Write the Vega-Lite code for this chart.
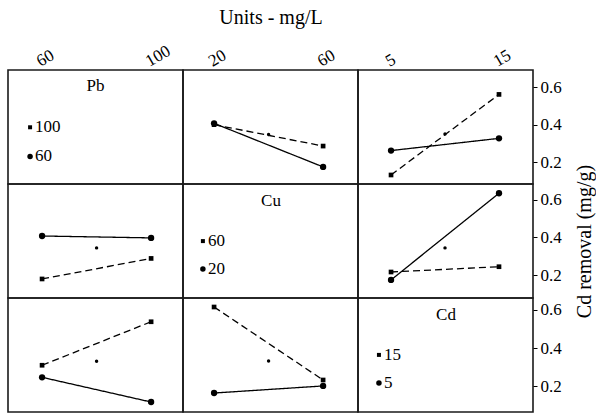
{
  "$schema": "https://vega.github.io/schema/vega-lite/v6.json",
  "padding": {"left": 7, "top": 7, "right": 0, "bottom": 0},
  "background": "white",
  "config": {
    "view": {"stroke": "#1a1a1a", "strokeWidth": 1.6},
    "axis": {"labelFont": "Liberation Serif", "labelFontSize": 17, "labelColor": "black", "titleFont": "Liberation Serif", "titleFontSize": 20, "titleFontWeight": "normal", "titleColor": "black", "tickColor": "black"},
    "text": {"font": "Liberation Serif", "fontSize": 17, "color": "black"},
    "concat": {"spacing": 0}
  },
  "datasets": {
    "pts": [
      {"row": "Pb", "col": "Cu", "x": 20, "setting": "low", "y": 0.407},
      {"row": "Pb", "col": "Cu", "x": 60, "setting": "low", "y": 0.175},
      {"row": "Pb", "col": "Cu", "x": 20, "setting": "high", "y": 0.400},
      {"row": "Pb", "col": "Cu", "x": 60, "setting": "high", "y": 0.286},
      {"row": "Pb", "col": "Cu", "x": 40, "setting": "mean", "y": 0.348},
      {"row": "Pb", "col": "Cd", "x": 5, "setting": "low", "y": 0.262},
      {"row": "Pb", "col": "Cd", "x": 15, "setting": "low", "y": 0.327},
      {"row": "Pb", "col": "Cd", "x": 5, "setting": "high", "y": 0.132},
      {"row": "Pb", "col": "Cd", "x": 15, "setting": "high", "y": 0.561},
      {"row": "Pb", "col": "Cd", "x": 10, "setting": "mean", "y": 0.350},
      {"row": "Cu", "col": "Pb", "x": 60, "setting": "low", "y": 0.407},
      {"row": "Cu", "col": "Pb", "x": 100, "setting": "low", "y": 0.397},
      {"row": "Cu", "col": "Pb", "x": 60, "setting": "high", "y": 0.179},
      {"row": "Cu", "col": "Pb", "x": 100, "setting": "high", "y": 0.288},
      {"row": "Cu", "col": "Pb", "x": 80, "setting": "mean", "y": 0.344},
      {"row": "Cu", "col": "Cd", "x": 5, "setting": "low", "y": 0.174},
      {"row": "Cu", "col": "Cd", "x": 15, "setting": "low", "y": 0.634},
      {"row": "Cu", "col": "Cd", "x": 5, "setting": "high", "y": 0.216},
      {"row": "Cu", "col": "Cd", "x": 15, "setting": "high", "y": 0.244},
      {"row": "Cu", "col": "Cd", "x": 10, "setting": "mean", "y": 0.344},
      {"row": "Cd", "col": "Pb", "x": 60, "setting": "low", "y": 0.247},
      {"row": "Cd", "col": "Pb", "x": 100, "setting": "low", "y": 0.118},
      {"row": "Cd", "col": "Pb", "x": 60, "setting": "high", "y": 0.310},
      {"row": "Cd", "col": "Pb", "x": 100, "setting": "high", "y": 0.537},
      {"row": "Cd", "col": "Pb", "x": 80, "setting": "mean", "y": 0.331},
      {"row": "Cd", "col": "Cu", "x": 20, "setting": "low", "y": 0.165},
      {"row": "Cd", "col": "Cu", "x": 60, "setting": "low", "y": 0.202},
      {"row": "Cd", "col": "Cu", "x": 20, "setting": "high", "y": 0.614},
      {"row": "Cd", "col": "Cu", "x": 60, "setting": "high", "y": 0.233},
      {"row": "Cd", "col": "Cu", "x": 40, "setting": "mean", "y": 0.332}
    ],
    "keys": [
      {"factor": "Pb", "part": "title", "label": "Pb"},
      {"factor": "Pb", "part": "high", "label": "100"},
      {"factor": "Pb", "part": "low", "label": "60"},
      {"factor": "Cu", "part": "title", "label": "Cu"},
      {"factor": "Cu", "part": "high", "label": "60"},
      {"factor": "Cu", "part": "low", "label": "20"},
      {"factor": "Cd", "part": "title", "label": "Cd"},
      {"factor": "Cd", "part": "high", "label": "15"},
      {"factor": "Cd", "part": "low", "label": "5"}
    ]
  },
  "columns": 3,
  "spacing": 0,
  "bounds": "flush",
  "concat": [
    {
      "width": 175, "height": 114, "data": {"name": "keys"},
      "layer": [
        {"transform": [{"filter": "datum.factor==='Pb' && datum.part==='title'"}],
         "mark": {"type": "text", "align": "center", "baseline": "middle", "font": "Liberation Serif"},
         "encoding": {
           "x": {"datum": 79.6, "type": "quantitative", "scale": {"domain": [47.5, 111.7], "nice": false, "zero": false}, "axis": {"orient": "top", "values": [60, 100], "labelAngle": -30, "ticks": false, "domain": false, "grid": false, "title": null, "labelPadding": 0, "labelFont": "Liberation Serif"}},
           "y": {"datum": 0.604, "type": "quantitative", "scale": {"domain": [0.084, 0.691], "nice": false, "zero": false}, "axis": null},
           "text": {"field": "label"}}},
        {"transform": [{"filter": "datum.factor==='Pb' && datum.part==='high'"}],
         "mark": {"type": "point", "shape": "square", "filled": true, "size": 16, "color": "black", "opacity": 1},
         "encoding": {"x": {"datum": 55.6, "type": "quantitative"}, "y": {"datum": 0.386, "type": "quantitative"}}},
        {"transform": [{"filter": "datum.factor==='Pb' && datum.part==='high'"}],
         "mark": {"type": "text", "align": "left", "baseline": "middle", "dx": 5, "font": "Liberation Serif"},
         "encoding": {"x": {"datum": 55.6, "type": "quantitative"}, "y": {"datum": 0.386, "type": "quantitative"}, "text": {"field": "label"}}},
        {"transform": [{"filter": "datum.factor==='Pb' && datum.part==='low'"}],
         "mark": {"type": "point", "shape": "circle", "filled": true, "size": 30, "color": "black", "opacity": 1},
         "encoding": {"x": {"datum": 55.6, "type": "quantitative"}, "y": {"datum": 0.231, "type": "quantitative"}}},
        {"transform": [{"filter": "datum.factor==='Pb' && datum.part==='low'"}],
         "mark": {"type": "text", "align": "left", "baseline": "middle", "dx": 5, "font": "Liberation Serif"},
         "encoding": {"x": {"datum": 55.6, "type": "quantitative"}, "y": {"datum": 0.231, "type": "quantitative"}, "text": {"field": "label"}}}
      ]
    },
    {
      "width": 175, "height": 114, "data": {"name": "pts"},
      "transform": [{"filter": "datum.row==='Pb' && datum.col==='Cu'"}],
      "encoding": {
        "x": {"field": "x", "type": "quantitative", "scale": {"domain": [8.6, 72.8], "nice": false, "zero": false}, "axis": {"orient": "top", "values": [20, 60], "labelAngle": -30, "ticks": false, "domain": false, "grid": false, "title": "Units - mg/L", "titlePadding": 18, "labelPadding": 0, "labelFont": "Liberation Serif"}},
        "y": {"field": "y", "type": "quantitative", "scale": {"domain": [0.084, 0.691], "nice": false, "zero": false}, "axis": null}
      },
      "layer": [
        {"transform": [{"filter": "datum.setting!=='mean'"}], "mark": {"type": "line", "color": "black", "strokeWidth": 1.3},
         "encoding": {"strokeDash": {"field": "setting", "type": "nominal", "scale": {"domain": ["high", "low"], "range": [[7, 4], [1, 0]]}, "legend": null}}},
        {"transform": [{"filter": "datum.setting==='high'"}], "mark": {"type": "point", "shape": "square", "filled": true, "size": 22, "color": "black", "opacity": 1}, "encoding": {}},
        {"transform": [{"filter": "datum.setting==='low'"}], "mark": {"type": "point", "shape": "circle", "filled": true, "size": 40, "color": "black", "opacity": 1}, "encoding": {}},
        {"transform": [{"filter": "datum.setting==='mean'"}], "mark": {"type": "point", "shape": "circle", "filled": true, "size": 12, "color": "black", "opacity": 1}, "encoding": {}}
      ]
    },
    {
      "width": 175, "height": 114, "data": {"name": "pts"},
      "transform": [{"filter": "datum.row==='Pb' && datum.col==='Cd'"}],
      "encoding": {
        "x": {"field": "x", "type": "quantitative", "scale": {"domain": [1.94, 18.15], "nice": false, "zero": false}, "axis": {"orient": "top", "values": [5, 15], "labelAngle": -30, "ticks": false, "domain": false, "grid": false, "title": null, "labelPadding": 0, "labelFont": "Liberation Serif"}},
        "y": {"field": "y", "type": "quantitative", "scale": {"domain": [0.084, 0.691], "nice": false, "zero": false}, "axis": {"orient": "right", "values": [0.2, 0.4, 0.6], "format": ".1f", "tickSize": 4, "domain": false, "grid": false, "title": null, "labelPadding": 3, "labelFont": "Liberation Serif"}}
      },
      "layer": [
        {"transform": [{"filter": "datum.setting!=='mean'"}], "mark": {"type": "line", "color": "black", "strokeWidth": 1.3},
         "encoding": {"strokeDash": {"field": "setting", "type": "nominal", "scale": {"domain": ["high", "low"], "range": [[7, 4], [1, 0]]}, "legend": null}}},
        {"transform": [{"filter": "datum.setting==='high'"}], "mark": {"type": "point", "shape": "square", "filled": true, "size": 22, "color": "black", "opacity": 1}, "encoding": {}},
        {"transform": [{"filter": "datum.setting==='low'"}], "mark": {"type": "point", "shape": "circle", "filled": true, "size": 40, "color": "black", "opacity": 1}, "encoding": {}},
        {"transform": [{"filter": "datum.setting==='mean'"}], "mark": {"type": "point", "shape": "circle", "filled": true, "size": 12, "color": "black", "opacity": 1}, "encoding": {}}
      ]
    },
    {
      "width": 175, "height": 114, "data": {"name": "pts"},
      "transform": [{"filter": "datum.row==='Cu' && datum.col==='Pb'"}],
      "encoding": {
        "x": {"field": "x", "type": "quantitative", "scale": {"domain": [47.5, 111.7], "nice": false, "zero": false}, "axis": null},
        "y": {"field": "y", "type": "quantitative", "scale": {"domain": [0.078, 0.683], "nice": false, "zero": false}, "axis": null}
      },
      "layer": [
        {"transform": [{"filter": "datum.setting!=='mean'"}], "mark": {"type": "line", "color": "black", "strokeWidth": 1.3},
         "encoding": {"strokeDash": {"field": "setting", "type": "nominal", "scale": {"domain": ["high", "low"], "range": [[7, 4], [1, 0]]}, "legend": null}}},
        {"transform": [{"filter": "datum.setting==='high'"}], "mark": {"type": "point", "shape": "square", "filled": true, "size": 22, "color": "black", "opacity": 1}, "encoding": {}},
        {"transform": [{"filter": "datum.setting==='low'"}], "mark": {"type": "point", "shape": "circle", "filled": true, "size": 40, "color": "black", "opacity": 1}, "encoding": {}},
        {"transform": [{"filter": "datum.setting==='mean'"}], "mark": {"type": "point", "shape": "circle", "filled": true, "size": 12, "color": "black", "opacity": 1}, "encoding": {}}
      ]
    },
    {
      "width": 175, "height": 114, "data": {"name": "keys"},
      "layer": [
        {"transform": [{"filter": "datum.factor==='Cu' && datum.part==='title'"}],
         "mark": {"type": "text", "align": "center", "baseline": "middle", "font": "Liberation Serif"},
         "encoding": {
           "x": {"datum": 40.9, "type": "quantitative", "scale": {"domain": [8.6, 72.8], "nice": false, "zero": false}, "axis": null},
           "y": {"datum": 0.593, "type": "quantitative", "scale": {"domain": [0.078, 0.683], "nice": false, "zero": false}, "axis": null},
           "text": {"field": "label"}}},
        {"transform": [{"filter": "datum.factor==='Cu' && datum.part==='high'"}],
         "mark": {"type": "point", "shape": "square", "filled": true, "size": 16, "color": "black", "opacity": 1},
         "encoding": {"x": {"datum": 15.9, "type": "quantitative"}, "y": {"datum": 0.380, "type": "quantitative"}}},
        {"transform": [{"filter": "datum.factor==='Cu' && datum.part==='high'"}],
         "mark": {"type": "text", "align": "left", "baseline": "middle", "dx": 5, "font": "Liberation Serif"},
         "encoding": {"x": {"datum": 15.9, "type": "quantitative"}, "y": {"datum": 0.380, "type": "quantitative"}, "text": {"field": "label"}}},
        {"transform": [{"filter": "datum.factor==='Cu' && datum.part==='low'"}],
         "mark": {"type": "point", "shape": "circle", "filled": true, "size": 30, "color": "black", "opacity": 1},
         "encoding": {"x": {"datum": 15.9, "type": "quantitative"}, "y": {"datum": 0.232, "type": "quantitative"}}},
        {"transform": [{"filter": "datum.factor==='Cu' && datum.part==='low'"}],
         "mark": {"type": "text", "align": "left", "baseline": "middle", "dx": 5, "font": "Liberation Serif"},
         "encoding": {"x": {"datum": 15.9, "type": "quantitative"}, "y": {"datum": 0.232, "type": "quantitative"}, "text": {"field": "label"}}}
      ]
    },
    {
      "width": 175, "height": 114, "data": {"name": "pts"},
      "transform": [{"filter": "datum.row==='Cu' && datum.col==='Cd'"}],
      "encoding": {
        "x": {"field": "x", "type": "quantitative", "scale": {"domain": [1.94, 18.15], "nice": false, "zero": false}, "axis": null},
        "y": {"field": "y", "type": "quantitative", "scale": {"domain": [0.078, 0.683], "nice": false, "zero": false}, "axis": {"orient": "right", "values": [0.2, 0.4, 0.6], "format": ".1f", "tickSize": 4, "domain": false, "grid": false, "title": "Cd removal (mg/g)", "titleAngle": 270, "titleBaseline": "top", "titlePadding": 13, "labelPadding": 3, "labelFont": "Liberation Serif"}}
      },
      "layer": [
        {"transform": [{"filter": "datum.setting!=='mean'"}], "mark": {"type": "line", "color": "black", "strokeWidth": 1.3},
         "encoding": {"strokeDash": {"field": "setting", "type": "nominal", "scale": {"domain": ["high", "low"], "range": [[7, 4], [1, 0]]}, "legend": null}}},
        {"transform": [{"filter": "datum.setting==='high'"}], "mark": {"type": "point", "shape": "square", "filled": true, "size": 22, "color": "black", "opacity": 1}, "encoding": {}},
        {"transform": [{"filter": "datum.setting==='low'"}], "mark": {"type": "point", "shape": "circle", "filled": true, "size": 40, "color": "black", "opacity": 1}, "encoding": {}},
        {"transform": [{"filter": "datum.setting==='mean'"}], "mark": {"type": "point", "shape": "circle", "filled": true, "size": 12, "color": "black", "opacity": 1}, "encoding": {}}
      ]
    },
    {
      "width": 175, "height": 114, "data": {"name": "pts"},
      "transform": [{"filter": "datum.row==='Cd' && datum.col==='Pb'"}],
      "encoding": {
        "x": {"field": "x", "type": "quantitative", "scale": {"domain": [47.5, 111.7], "nice": false, "zero": false}, "axis": null},
        "y": {"field": "y", "type": "quantitative", "scale": {"domain": [0.066, 0.661], "nice": false, "zero": false}, "axis": null}
      },
      "layer": [
        {"transform": [{"filter": "datum.setting!=='mean'"}], "mark": {"type": "line", "color": "black", "strokeWidth": 1.3},
         "encoding": {"strokeDash": {"field": "setting", "type": "nominal", "scale": {"domain": ["high", "low"], "range": [[7, 4], [1, 0]]}, "legend": null}}},
        {"transform": [{"filter": "datum.setting==='high'"}], "mark": {"type": "point", "shape": "square", "filled": true, "size": 22, "color": "black", "opacity": 1}, "encoding": {}},
        {"transform": [{"filter": "datum.setting==='low'"}], "mark": {"type": "point", "shape": "circle", "filled": true, "size": 40, "color": "black", "opacity": 1}, "encoding": {}},
        {"transform": [{"filter": "datum.setting==='mean'"}], "mark": {"type": "point", "shape": "circle", "filled": true, "size": 12, "color": "black", "opacity": 1}, "encoding": {}}
      ]
    },
    {
      "width": 175, "height": 114, "data": {"name": "pts"},
      "transform": [{"filter": "datum.row==='Cd' && datum.col==='Cu'"}],
      "encoding": {
        "x": {"field": "x", "type": "quantitative", "scale": {"domain": [8.6, 72.8], "nice": false, "zero": false}, "axis": null},
        "y": {"field": "y", "type": "quantitative", "scale": {"domain": [0.066, 0.661], "nice": false, "zero": false}, "axis": null}
      },
      "layer": [
        {"transform": [{"filter": "datum.setting!=='mean'"}], "mark": {"type": "line", "color": "black", "strokeWidth": 1.3},
         "encoding": {"strokeDash": {"field": "setting", "type": "nominal", "scale": {"domain": ["high", "low"], "range": [[7, 4], [1, 0]]}, "legend": null}}},
        {"transform": [{"filter": "datum.setting==='high'"}], "mark": {"type": "point", "shape": "square", "filled": true, "size": 22, "color": "black", "opacity": 1}, "encoding": {}},
        {"transform": [{"filter": "datum.setting==='low'"}], "mark": {"type": "point", "shape": "circle", "filled": true, "size": 40, "color": "black", "opacity": 1}, "encoding": {}},
        {"transform": [{"filter": "datum.setting==='mean'"}], "mark": {"type": "point", "shape": "circle", "filled": true, "size": 12, "color": "black", "opacity": 1}, "encoding": {}}
      ]
    },
    {
      "width": 175, "height": 114, "data": {"name": "keys"},
      "layer": [
        {"transform": [{"filter": "datum.factor==='Cd' && datum.part==='title'"}],
         "mark": {"type": "text", "align": "center", "baseline": "middle", "font": "Liberation Serif"},
         "encoding": {
           "x": {"datum": 10.09, "type": "quantitative", "scale": {"domain": [1.94, 18.15], "nice": false, "zero": false}, "axis": null},
           "y": {"datum": 0.572, "type": "quantitative", "scale": {"domain": [0.066, 0.661], "nice": false, "zero": false}, "axis": {"orient": "right", "values": [0.2, 0.4, 0.6], "format": ".1f", "tickSize": 4, "domain": false, "grid": false, "title": null, "labelPadding": 3, "labelFont": "Liberation Serif"}},
           "text": {"field": "label"}}},
        {"transform": [{"filter": "datum.factor==='Cd' && datum.part==='high'"}],
         "mark": {"type": "point", "shape": "square", "filled": true, "size": 16, "color": "black", "opacity": 1},
         "encoding": {"x": {"datum": 3.88, "type": "quantitative"}, "y": {"datum": 0.364, "type": "quantitative"}}},
        {"transform": [{"filter": "datum.factor==='Cd' && datum.part==='high'"}],
         "mark": {"type": "text", "align": "left", "baseline": "middle", "dx": 5, "font": "Liberation Serif"},
         "encoding": {"x": {"datum": 3.88, "type": "quantitative"}, "y": {"datum": 0.364, "type": "quantitative"}, "text": {"field": "label"}}},
        {"transform": [{"filter": "datum.factor==='Cd' && datum.part==='low'"}],
         "mark": {"type": "point", "shape": "circle", "filled": true, "size": 30, "color": "black", "opacity": 1},
         "encoding": {"x": {"datum": 3.88, "type": "quantitative"}, "y": {"datum": 0.217, "type": "quantitative"}}},
        {"transform": [{"filter": "datum.factor==='Cd' && datum.part==='low'"}],
         "mark": {"type": "text", "align": "left", "baseline": "middle", "dx": 5, "font": "Liberation Serif"},
         "encoding": {"x": {"datum": 3.88, "type": "quantitative"}, "y": {"datum": 0.217, "type": "quantitative"}, "text": {"field": "label"}}}
      ]
    }
  ]
}
